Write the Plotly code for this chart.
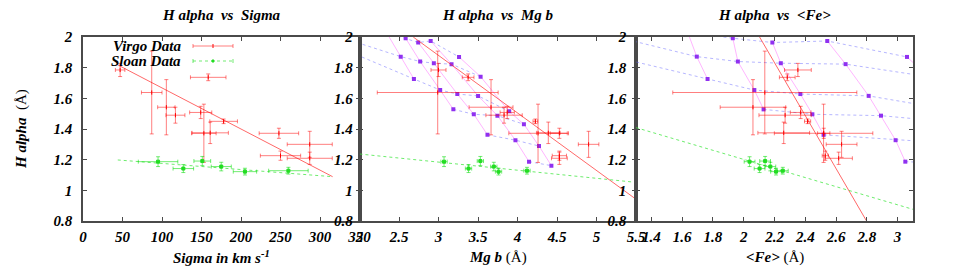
import plotly.graph_objects as go

# ---------------- data ----------------
# Virgo galaxies
virgo_ha = [1.785, 1.638, 1.542, 1.490, 1.737, 1.508, 1.372, 1.375, 1.450, 1.372, 1.300, 1.226, 1.209]
virgo_ha_err = [0.043, 0.27, 0.18, 0.052, 0.022, 0.04, 0.19, 0.07, 0.015, 0.033, 0.085, 0.03, 0.04]
virgo_sigma = [47, 87, 105.5, 117, 158.5, 149, 153, 161, 178, 248, 287, 250, 287]
virgo_sigma_err = [6, 13, 11, 12, 22.5, 14, 15.5, 23, 17.5, 25, 28.5, 25.5, 28.5]
virgo_mgb = [3.00, 2.99, 3.665, 3.83, 3.375, 3.87, 4.26, 4.39, 4.226, 4.53, 4.90, 4.53, 4.53]
virgo_mgb_err = [0.095, 0.765, 0.278, 0.23, 0.074, 0.09, 0.37, 0.15, 0.03, 0.116, 0.13, 0.09, 0.10]
virgo_fe = [2.352, 2.137, 2.06, 2.269, 2.283, 2.37, 2.519, 2.26, 2.415, 2.52, 2.636, 2.53, 2.617]
virgo_fe_err = [0.087, 0.598, 0.213, 0.17, 0.051, 0.067, 0.32, 0.168, 0.02, 0.04, 0.1, 0.02, 0.089]

# Sloan stacked spectra
sloan_ha = [1.187, 1.142, 1.191, 1.155, 1.122, 1.128]
sloan_ha_err = [0.032, 0.026, 0.03, 0.028, 0.022, 0.022]
sloan_sigma = [95, 127, 151, 175, 205, 260]
sloan_sigma_err = [25, 13, 10.6, 12.7, 14.8, 25]
sloan_mgb = [3.07, 3.38, 3.53, 3.70, 3.76, 4.12]
sloan_mgb_err = [0.04, 0.04, 0.04, 0.04, 0.04, 0.04]
sloan_fe = [2.038, 2.103, 2.139, 2.173, 2.21, 2.254]
sloan_fe_err = [0.035, 0.035, 0.035, 0.035, 0.035, 0.035]

# straight-line fits (end points)
fit_sigma_x = [44, 316]
fit_sigma_virgo = [1.818, 1.089]
fit_sigma_sloan = [1.198, 1.089]
fit_mgb_virgo_x = [2.68, 5.5]
fit_mgb_virgo = [2.0, 0.942]
fit_mgb_sloan_x = [2.0, 5.5]
fit_mgb_sloan = [1.237, 1.052]
fit_fe_virgo_x = [2.103, 2.797]
fit_fe_virgo = [2.0, 0.802]
fit_fe_sloan_x = [1.3, 3.1]
fit_fe_sloan = [1.409, 0.876]

# model grid: rows = metallicity (lowest first, first row lies off the plot),
# columns = age (None = not in grid)
grid_ha = [
    [None, 2.000, 1.900, None, None, None],
    [2.030, 1.872, 1.726, None, None, None],
    [1.992, 1.840, 1.654, 1.528, None, None],
    [1.964, 1.829, 1.628, 1.496, 1.362, None],
    [1.974, 1.823, 1.616, 1.487, 1.327, 1.187],
    [1.870, 1.741, 1.515, 1.431, 1.289, 1.161],
]
grid_mgb = [
    [None, 1.75, 1.89, None, None, None],
    [2.341, 2.522, 2.689, None, None, None],
    [2.584, 2.768, 3.021, 3.188, None, None],
    [2.743, 2.941, 3.238, 3.447, 3.620, None],
    [2.901, 3.165, 3.501, 3.746, 3.974, 4.146],
    [3.260, 3.533, 3.895, 4.081, 4.272, 4.429],
]
grid_fe = [
    [None, 1.174, 1.036, None, None, None],
    [1.636, 1.695, 1.765, None, None, None],
    [1.929, 1.962, 2.069, 2.129, None, None],
    [2.186, 2.241, 2.368, 2.446, 2.519, None],
    [2.543, 2.662, 2.812, 2.892, 2.987, 3.050],
    [3.061, 3.20, 3.40, 3.50, 3.62, 3.70],
]

x1_ticks = [0, 50, 100, 150, 200, 250, 300, 350]
x2_ticks = [2, 2.5, 3, 3.5, 4, 4.5, 5, 5.5]
x3_ticks = [1.4, 1.6, 1.8, 2, 2.2, 2.4, 2.6, 2.8, 3]
y_ticks = [0.8, 1, 1.2, 1.4, 1.6, 1.8, 2]

# ---------------- styling ----------------
FONT = "Liberation Serif"
RED = "rgba(255,0,0,0.5)"
RED_LINE = "rgba(255,40,40,0.7)"
GREEN = "rgba(0,220,0,0.55)"
GREEN_LINE = "rgba(60,230,60,0.75)"
BLUE = "rgba(110,110,255,0.5)"
MAGENTA = "rgba(255,90,255,0.45)"
PURPLE = "#9030f0"
AX = "#4a4a4a"

OFF = 8                      # page margin of the html body
W, H = 969 - OFF, 277 - OFF
PL, PR, PT, PB = 83, 913, 37, 221   # plot area in page pixels
L, T = PL - OFF, PT - OFF
R, B = W - (PR - OFF), H - (PB - OFF)
PW = PR - PL
PH = PB - PT
d1 = 276.5 / PW
d2 = 553.0 / PW

fig = go.Figure()


def errtrace(x, y, ex, ey, color, xa, ya, msym, msize, mcolor):
    fig.add_trace(go.Scatter(
        x=x, y=y, mode="markers", xaxis=xa, yaxis=ya, showlegend=False,
        error_x=dict(type="data", array=ex, color=color, thickness=1, width=2),
        error_y=dict(type="data", array=ey, color=color, thickness=1, width=2),
        marker=dict(symbol=msym, size=msize, color=mcolor,
                    line=dict(width=1, color=mcolor)),
        cliponaxis=True))


def line(x, y, color, xa, ya, dash="solid", width=1):
    fig.add_trace(go.Scatter(x=x, y=y, mode="lines", xaxis=xa, yaxis=ya,
                             showlegend=False,
                             line=dict(color=color, width=width, dash=dash)))


# model grids (panels 2 and 3)
for gx, xa, ya in [(grid_mgb, "x2", "y2"), (grid_fe, "x3", "y3")]:
    nz = len(grid_ha)
    na = len(grid_ha[0])
    for a in range(na):       # constant age (blue dotted)
        xs = [gx[z][a] for z in range(nz) if grid_ha[z][a] is not None]
        ys = [grid_ha[z][a] for z in range(nz) if grid_ha[z][a] is not None]
        line(xs, ys, BLUE, xa, ya, dash="dot")
    for z in range(1, nz):    # constant metallicity (magenta)
        xs = [gx[z][a] for a in range(na) if grid_ha[z][a] is not None]
        ys = [grid_ha[z][a] for a in range(na) if grid_ha[z][a] is not None]
        line(xs, ys, MAGENTA, xa, ya)
    px, py = [], []
    for z in range(1, nz):
        for a in range(na):
            if grid_ha[z][a] is not None:
                px.append(gx[z][a])
                py.append(grid_ha[z][a])
    fig.add_trace(go.Scatter(x=px, y=py, mode="markers", xaxis=xa, yaxis=ya,
                             showlegend=False,
                             marker=dict(symbol="square", size=4, color=PURPLE)))

# fits
line(fit_sigma_x, fit_sigma_virgo, RED_LINE, "x", "y")
line(fit_sigma_x, fit_sigma_sloan, GREEN_LINE, "x", "y", dash="dot")
line(fit_mgb_virgo_x, fit_mgb_virgo, RED_LINE, "x2", "y2")
line(fit_mgb_sloan_x, fit_mgb_sloan, GREEN_LINE, "x2", "y2", dash="dot")
line(fit_fe_virgo_x, fit_fe_virgo, RED_LINE, "x3", "y3")
line(fit_fe_sloan_x, fit_fe_sloan, GREEN_LINE, "x3", "y3", dash="dot")

# data points
for (vx, vex, sx, sex, xa, ya) in [
        (virgo_sigma, virgo_sigma_err, sloan_sigma, sloan_sigma_err, "x", "y"),
        (virgo_mgb, virgo_mgb_err, sloan_mgb, sloan_mgb_err, "x2", "y2"),
        (virgo_fe, virgo_fe_err, sloan_fe, sloan_fe_err, "x3", "y3")]:
    errtrace(vx, virgo_ha, vex, virgo_ha_err, RED, xa, ya, "line-ns", 3, "red")
    errtrace(sx, sloan_ha, sex, sloan_ha_err, GREEN, xa, ya, "square", 3, "#22dd22")

tickfont = dict(family=FONT, size=15, color="black", weight="bold", style="italic")


def xax(domain, rng, ticks):
    return dict(domain=domain, range=rng, tickvals=ticks, ticktext=[f"{t:g}" for t in ticks],
                showgrid=False, zeroline=False, showline=True, linecolor=AX, linewidth=1.5,
                mirror="ticks", ticks="inside", ticklen=4, tickwidth=1, tickcolor=AX,
                tickfont=tickfont, ticklabelstandoff=1, automargin=False)


def yax(anchor, standoff):
    return dict(anchor=anchor, domain=[0, 1], range=[0.8, 2], tickvals=y_ticks,
                ticktext=[f"{t:g}" for t in y_ticks],
                showgrid=False, zeroline=False, showline=True, linecolor=AX, linewidth=1.5,
                mirror="ticks", ticks="inside", ticklen=4, tickwidth=1, tickcolor=AX,
                tickfont=tickfont, ticklabelstandoff=standoff, automargin=False)


fig.update_layout(
    width=W, height=H, margin=dict(l=L, r=R, t=T, b=B, autoexpand=False),
    paper_bgcolor="white", plot_bgcolor="rgba(0,0,0,0)", showlegend=False,
    xaxis=dict(xax([0, d1], [0, 350], x1_ticks), anchor="y"),
    xaxis2=dict(xax([d1, d2], [2, 5.5], x2_ticks), anchor="y2"),
    xaxis3=dict(xax([d2, 1], [1.3, 3.1], x3_ticks), anchor="y3"),
    yaxis=yax("x", 6),
    yaxis2=yax("x2", 2),
    yaxis3=yax("x3", 5),
)

bi = dict(family=FONT, size=15, color="black", weight="bold", style="italic")
nf = dict(family=FONT, size=15, color="black")
sp = "\u00a0"


def px_x(p):
    return (p - PL) / PW


def px_y(p):
    return (PB - p) / PH


def ann(text, x, y, font, xanchor="center", **kw):
    fig.add_annotation(text=text, x=px_x(x), y=px_y(y), xref="paper", yref="paper",
                       xanchor=xanchor, yanchor="middle",
                       showarrow=False, font=font, **kw)


# panel titles
ann(f"H alpha{sp}{sp}vs{sp}{sp}Sigma", 221.5, 15, bi)
ann(f"H alpha{sp}{sp}vs{sp}{sp}Mg b", 497.7, 15, bi)
ann(f"H alpha{sp}{sp}vs{sp}{sp}&lt;Fe&gt;", 774.5, 15, bi)
# axis titles
ann("<b><i>Sigma in km s<sup>-1</sup></i></b>", 221.5, 257, nf)
ann(f"<b><i>Mg b</i></b>{sp}(Å)", 497.7, 257, nf)
ann(f"<b><i>&lt;Fe&gt;</i></b>{sp}(Å)", 774.5, 257, nf)
ann(f"<b><i>H alpha</i></b>{sp}{sp}(Å)", 21, 129, nf, textangle=-90)

# legend
ann("Virgo Data", 183, 46, bi, xanchor="right")
ann("Sloan Data", 183, 61, bi, xanchor="right")
lx0, lx1, lxc = px_x(193), px_x(233), px_x(213)
for yy, col, dash in [(46, RED, "solid"), (61, GREEN, "dot")]:
    fig.add_shape(type="line", xref="paper", yref="paper", x0=lx0, x1=lx1,
                  y0=px_y(yy), y1=px_y(yy), line=dict(color=col, width=1, dash=dash))
    for xx in (lx0, lx1):
        fig.add_shape(type="line", xref="paper", yref="paper", x0=xx, x1=xx,
                      y0=px_y(yy - 2), y1=px_y(yy + 2), line=dict(color=col, width=1))
fig.add_shape(type="line", xref="paper", yref="paper", x0=lxc, x1=lxc,
              y0=px_y(44), y1=px_y(48), line=dict(color="red", width=1))
fig.add_shape(type="rect", xref="paper", yref="paper", x0=px_x(212), x1=px_x(214),
              y0=px_y(60), y1=px_y(62), line=dict(color="#22dd22", width=1),
              fillcolor="#22dd22")

fig.write_html("out.html")
